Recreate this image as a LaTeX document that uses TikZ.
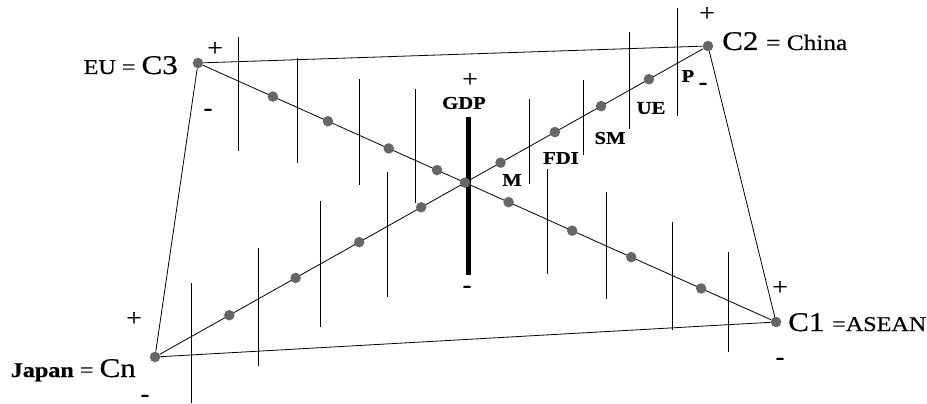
\documentclass[tikz,border=0pt]{standalone}
\usepackage{fontspec}
\setmainfont{Liberation Serif}[FakeStretch=1.15,FakeBold=0.6]
\begin{document}
\begin{tikzpicture}[x=1pt,y=-1pt,
	dot/.style={circle,fill=black!60,inner sep=0pt,minimum size=10.5pt},
	pls/.style={inner sep=0pt,font=\mdseries\fontsize{24}{24}\selectfont},
	mns/.style={inner sep=0pt,font=\bfseries\fontsize{22}{22}\selectfont},
	var/.style={inner sep=0pt,font=\bfseries\fontsize{18}{18}\selectfont}]
	\useasboundingbox (0,0) rectangle (927,404);
	% the four countries
	\node[dot] (c3) at (198,63) {};
	\node[dot] (c2) at (708,46) {};
	\node[dot] (c1) at (776,322) {};
	\node[dot] (cn) at (155,357) {};
	\node[anchor=base east,inner sep=0pt] (eu) at (178,74)
		{\fontsize{21}{21}\selectfont EU = \fontsize{27}{27}\selectfont C3};
	\node[anchor=base west,inner sep=0pt] (china) at (722,50)
		{\fontsize{27}{27}\selectfont C2 \fontsize{22}{22}\selectfont = China};
	\node[anchor=base west,inner sep=0pt] (asean) at (788,331)
		{\fontsize{27}{27}\selectfont C1 \fontsize{21}{21}\selectfont =ASEAN};
	\node[anchor=base east,inner sep=0pt] (japan) at (136,377)
		{\fontsize{21}{21}\selectfont\textbf{Japan} = \fontsize{27}{27}\selectfont Cn};
	\draw[line width=.8pt] (c3) -- (c2) -- (c1) -- (cn) -- (c3);
	\draw[line width=.8pt] (c3) -- (c1);
	\draw[line width=.8pt] (cn) -- (c2);
	% scales
	\foreach \x/\a/\b in {238/37/151,297/58/163,359/79/185,415/89/203,
		547/169/274,606/192/299,672/222/330,728/252/352,
		191/283/403,258/248/366,320/201/327,387/172/297,
		529/99/184,583/80/155,629/32/129,677/8/116}
		\draw[line width=.9pt] (\x,\a) -- (\x,\b);
	\coordinate (gdptop) at (468,117);
	\coordinate (gdpbot) at (468,275);
	\draw[line width=5pt] (gdptop) -- (gdpbot);
	\node[dot] (ctr) at (intersection of c3--c1 and cn--c2) {};
	\foreach \t in {.123,.22,.327,.412,.538,.65,.754,.877}
		\path (c3) -- (c1) node[dot,pos=\t] {};
	\foreach \t in {.128,.25,.367,.481,.627,.727,.812,.9}
		\path (cn) -- (c2) node[dot,pos=\t] {};
	% variables
	\node[var] (gdp) at (464,103) {GDP};
	\node[var] (m) at (512,180) {M};
	\node[var] (fdi) at (561,158) {FDI};
	\node[var] (sm) at (610,138) {SM};
	\node[var] (ue) at (651,108) {UE};
	\node[var] (p) at (688,76) {P};
	% signs
	\node[pls] (p3) at (215,49) {+};
	\node[mns] (m3) at (208,112) {-};
	\node[pls] (pg) at (470,80) {+};
	\node[mns] (mg) at (467,289) {-};
	\node[pls] (p2) at (707,14) {+};
	\node[mns] (mp) at (703,86) {-};
	\node[pls] (p1) at (780,288) {+};
	\node[mns] (m1) at (780,361) {-};
	\node[pls] (pn) at (134,319) {+};
	\node[mns] (mn) at (145,398) {-};
\end{tikzpicture}
\end{document}
